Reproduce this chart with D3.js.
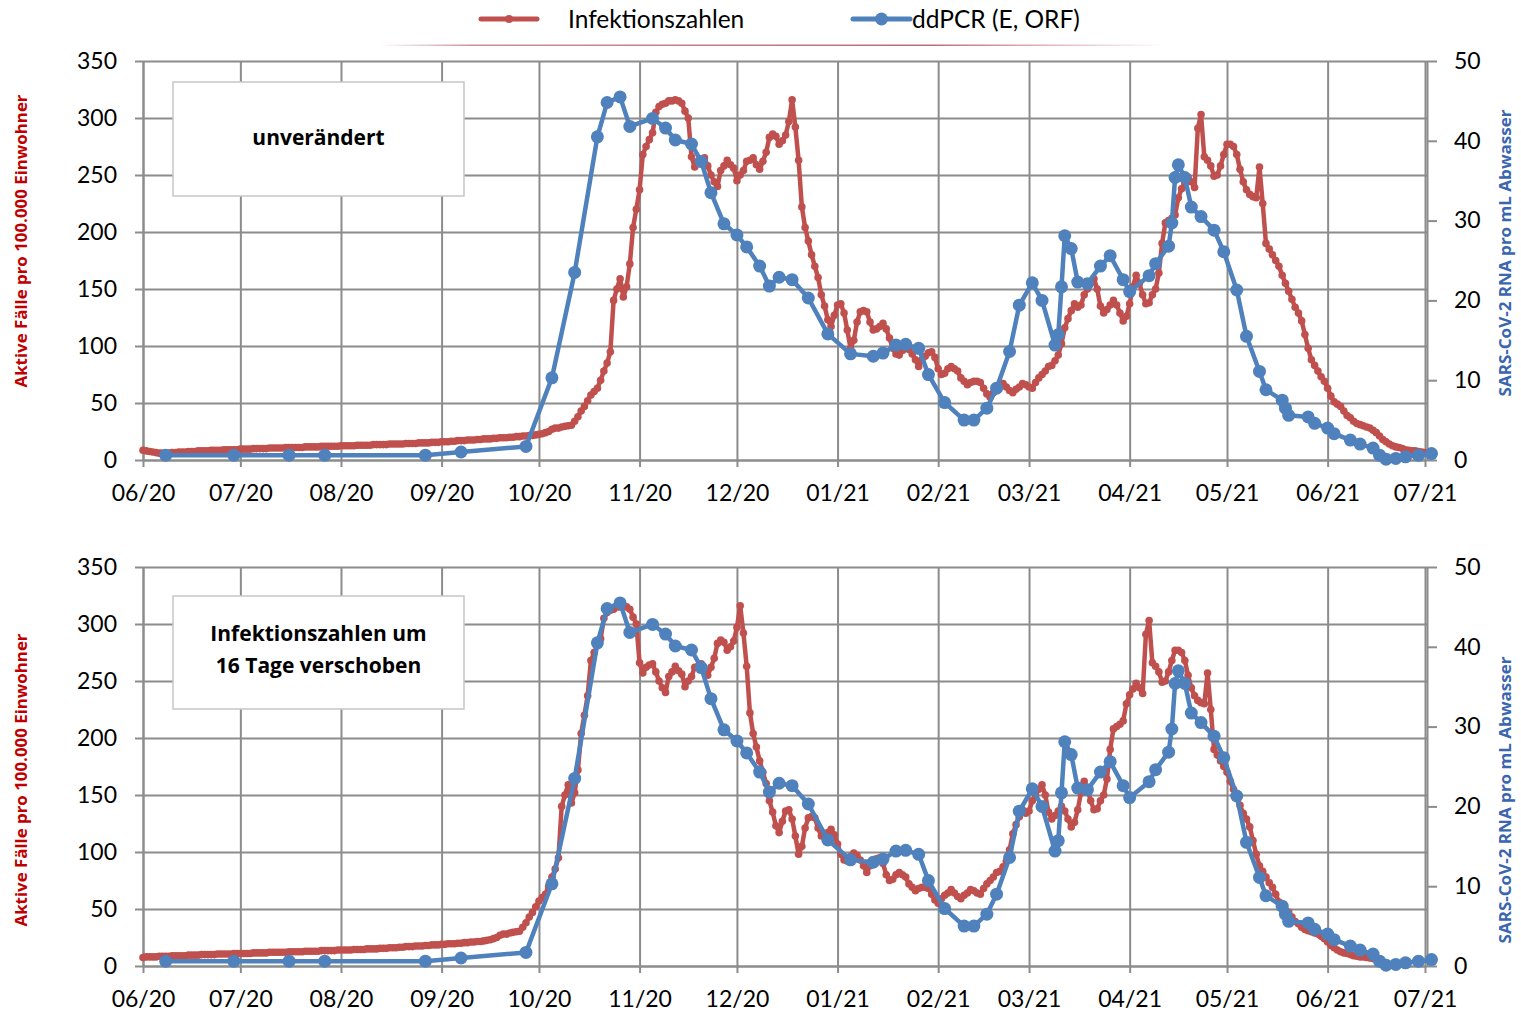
<!DOCTYPE html>
<html lang="de">
<head>
<meta charset="utf-8">
<script src="https://cdn.jsdelivr.net/npm/d3@7"></script>
<style>
  body { margin: 0; background: #fff; }
  svg { display: block; font-family: Lato, 'Open Sans', sans-serif; }
</style>
</head>
<body>
<svg id="chart" width="1521" height="1013"></svg>
<script>
// --- data --------------------------------------------------------------
const RED_START = '2020-06-01';
// Aktive Fälle pro 100.000 Einwohner, one value per day from RED_START
const redValues = [
  8.5, 8, 7.5, 7, 6.5, 6, 6, 6, 6, 6.5,
  6.5, 7, 7, 7, 7.5, 7.5, 7.5, 8, 8, 8,
  8, 8.5, 8.5, 8.5, 8.5, 9, 9, 9, 9, 9,
  9.5, 9.5, 9.5, 9.5, 10, 10, 10, 10, 10, 10.5,
  10.5, 10.5, 10.5, 10.5, 11, 11, 11, 11, 11, 11,
  11.5, 11.5, 11.5, 11.5, 11.5, 12, 12, 12, 12, 12,
  12, 12.5, 12.5, 12.5, 12.5, 12.5, 13, 13, 13, 13,
  13, 13.5, 13.5, 13.5, 13.5, 13.5, 14, 14, 14, 14,
  14, 14.5, 14.5, 14.5, 14.5, 15, 15, 15, 15, 15.5,
  15.5, 15.5, 16, 16, 16, 16.5, 16.5, 17, 17, 17,
  17.5, 17.5, 17.5, 18, 18, 18.5, 18.5, 18.5, 19, 19,
  19.5, 19.5, 19.5, 20, 20, 20.5, 20.5, 21, 21, 21.5,
  21.5, 22, 22.5, 23, 24, 25, 27, 28, 28, 29,
  29.5, 30, 30.5, 34, 38, 43, 47, 52, 57, 60,
  63, 70, 78, 85, 95, 140, 150, 159, 143, 152,
  172, 204, 220, 237, 268, 275, 281, 287, 305, 310,
  312, 313, 315, 315, 316, 315, 313, 306, 300, 266,
  257, 262, 264, 265, 258, 250, 244, 240, 254, 258,
  263, 259, 256, 245, 250, 254, 262, 263, 265, 259,
  255, 262, 270, 283, 286, 284, 277, 280, 285, 297,
  316, 292, 263, 222, 204, 192, 180, 170, 160, 145,
  135, 123, 117, 127, 136, 137, 129, 114, 98, 105,
  121, 130, 131, 130, 121, 114, 115, 117, 120, 115,
  107, 98, 93, 92, 96, 99, 97, 93, 88, 82,
  88, 91, 94, 95, 90, 80, 75, 76, 80, 82,
  80, 78, 72, 69, 66, 68, 69, 69, 68, 63,
  58, 55, 59, 62, 64, 67, 64, 61, 59, 62,
  64, 67, 66, 64, 63, 68, 72, 75, 78, 82,
  83, 87, 92, 102, 116, 124, 131, 137, 134, 136,
  145, 150, 155, 159, 150, 135, 129, 132, 136, 140,
  136, 129, 122, 126, 137, 152, 162, 155, 145, 137,
  138, 145, 150, 164, 190, 208, 210, 212, 215, 230,
  238, 243, 248, 244, 239, 291, 303, 266, 263, 258,
  249, 250, 258, 268, 277, 277, 275, 268, 255, 244,
  237, 233, 231, 230, 257, 225, 190, 185, 180, 175,
  170, 162, 155, 148, 141, 134, 129, 122, 110, 98,
  88, 83, 78, 73, 69, 63, 56, 51, 49, 47,
  43, 39, 37, 34, 32, 31, 30, 29, 28, 26,
  24, 21, 18, 16, 14, 12.5, 11.5, 11, 10, 9,
  8.5, 8, 8, 7.5, 7, 6.5,
];

// SARS-CoV-2 RNA pro mL Abwasser (ddPCR)
const blueDates = [
  '2020-06-08', '2020-06-29', '2020-07-16', '2020-07-27', '2020-08-27', '2020-09-07',
  '2020-09-27', '2020-10-05', '2020-10-12', '2020-10-19', '2020-10-22', '2020-10-26',
  '2020-10-29', '2020-11-05', '2020-11-09', '2020-11-12', '2020-11-17', '2020-11-20',
  '2020-11-23', '2020-11-27', '2020-12-01', '2020-12-04', '2020-12-08', '2020-12-11',
  '2020-12-14', '2020-12-18', '2020-12-23', '2020-12-29', '2021-01-05', '2021-01-12',
  '2021-01-15', '2021-01-19', '2021-01-22', '2021-01-26', '2021-01-29', '2021-02-03',
  '2021-02-09', '2021-02-12', '2021-02-16', '2021-02-19', '2021-02-23', '2021-02-26',
  '2021-03-02', '2021-03-05', '2021-03-09', '2021-03-10', '2021-03-11', '2021-03-12',
  '2021-03-14', '2021-03-16', '2021-03-19', '2021-03-23', '2021-03-26', '2021-03-30',
  '2021-04-01', '2021-04-07', '2021-04-09', '2021-04-13', '2021-04-14', '2021-04-15',
  '2021-04-16', '2021-04-18', '2021-04-20', '2021-04-23', '2021-04-27', '2021-04-30',
  '2021-05-04', '2021-05-07', '2021-05-11', '2021-05-13', '2021-05-18', '2021-05-19',
  '2021-05-20', '2021-05-26', '2021-05-28', '2021-06-01', '2021-06-03', '2021-06-08',
  '2021-06-11', '2021-06-15', '2021-06-17', '2021-06-19', '2021-06-22', '2021-06-25',
  '2021-06-29', '2021-07-03',
];
const blueValues = [
  0.6, 0.6, 0.6, 0.6, 0.6, 1.0,
  1.7, 10.3, 23.5, 40.5, 44.8, 45.5,
  41.8, 42.8, 41.6, 40.1, 39.6, 37.4,
  33.5, 29.6, 28.2, 26.7, 24.3, 21.8,
  22.9, 22.6, 20.3, 15.8, 13.3, 13.0,
  13.4, 14.4, 14.5, 14.0, 10.7, 7.2,
  5.0, 5.0, 6.5, 9.0, 13.6, 19.4,
  22.2, 20.0, 14.4, 15.7, 21.7, 28.1,
  26.5, 22.3, 22.1, 24.3, 25.6, 22.6,
  21.1, 23.1, 24.6, 26.8, 29.7, 35.4,
  37.0, 35.4, 31.7, 30.5, 28.8, 26.1,
  21.3, 15.5, 11.1, 8.8, 7.5, 6.5,
  5.6, 5.4, 4.6, 4.0, 3.3, 2.5,
  2.0, 1.5, 0.6, 0.1, 0.2, 0.4,
  0.6, 0.8,
];

const monthTicks = [
  '2020-06-01', '2020-07-01', '2020-08-01', '2020-09-01', '2020-10-01', '2020-11-01', '2020-12-01',
  '2021-01-01', '2021-02-01', '2021-03-01', '2021-04-01', '2021-05-01', '2021-06-01', '2021-07-01',
];
const leftTicks = [0, 50, 100, 150, 200, 250, 300, 350];
const rightTicks = [0, 10, 20, 30, 40, 50];
const SHIFT_DAYS = 16;

const LEFT_TITLE = 'Aktive Fälle pro 100.000 Einwohner';
const RIGHT_TITLE = 'SARS-CoV-2 RNA pro mL Abwasser';

// --- layout ------------------------------------------------------------
const PLOT_LEFT = 143;
const PLOT_RIGHT = 1425;
const RIGHT_AXIS_X = 1427;
const PLOT_H = 399;
const TICK_FONT = 23;
const COLORS = {
  red: '#c0504d',
  blue: '#4f81bd',
  grid: '#8c8c8c',
  redTitle: '#c00000',
  blueTitle: '#3a66b0',
};

const panels = [
  {
    top: 61, shift: 0, lines: ['unverändert'],
    box: { x: 173, y: 82, w: 291, h: 114 }, textY: [145],
    leftTitleY: 241, rightTitleY: 253,
  },
  {
    top: 567, shift: SHIFT_DAYS, lines: ['Infektionszahlen um', '16 Tage verschoben'],
    box: { x: 173, y: 596, w: 291, h: 113 }, textY: [641, 673],
    leftTitleY: 780, rightTitleY: 800,
  },
];

const parse = d3.utcParse('%Y-%m-%d');
const redStart = parse(RED_START);
const monthDates = monthTicks.map(parse);

const xScale = d3.scaleUtc()
  .domain([monthDates[0], monthDates[monthDates.length - 1]])
  .range([PLOT_LEFT, PLOT_RIGHT]);

const svg = d3.select('#chart');

function styleAxis(g) {
  g.select('.domain').attr('stroke', COLORS.grid).attr('stroke-width', 2);
  g.selectAll('.tick line').attr('stroke', COLORS.grid).attr('stroke-width', 2);
  g.selectAll('.tick text')
    .attr('fill', '#000')
    .attr('font-size', TICK_FONT)
    .attr('font-family', 'Lato, sans-serif');
}

function drawPanel(p) {
  const yLeft = d3.scaleLinear().domain([0, 350]).range([p.top + PLOT_H, p.top]);
  const yRight = d3.scaleLinear().domain([0, 50]).range([p.top + PLOT_H, p.top]);
  const g = svg.append('g');

  // gridlines
  g.append('g')
    .attr('transform', `translate(${PLOT_LEFT},0)`)
    .call(d3.axisLeft(yLeft).tickValues(leftTicks).tickSize(-(RIGHT_AXIS_X - PLOT_LEFT)).tickFormat(''))
    .call((a) => a.select('.domain').remove())
    .call((a) => a.selectAll('line').attr('stroke', COLORS.grid).attr('stroke-width', 2));
  g.append('g')
    .attr('transform', `translate(0,${p.top + PLOT_H})`)
    .call(d3.axisBottom(xScale).tickValues(monthDates).tickSize(-PLOT_H).tickFormat(''))
    .call((a) => a.select('.domain').remove())
    .call((a) => a.selectAll('line').attr('stroke', COLORS.grid).attr('stroke-width', 2));

  // annotation box
  g.append('rect')
    .attr('x', p.box.x).attr('y', p.box.y)
    .attr('width', p.box.w).attr('height', p.box.h)
    .attr('fill', '#fff')
    .attr('stroke', '#c6c6c6')
    .attr('stroke-width', 1.5);
  p.lines.forEach((t, i) => {
    g.append('text')
      .attr('x', p.box.x + p.box.w / 2)
      .attr('y', p.textY[i])
      .attr('text-anchor', 'middle')
      .attr('font-family', "'Open Sans', sans-serif")
      .attr('font-size', 21)
      .attr('font-weight', 700)
      .attr('fill', '#000')
      .text(t);
  });

  // axes
  g.append('g')
    .attr('transform', `translate(0,${p.top + PLOT_H})`)
    .call(d3.axisBottom(xScale).tickValues(monthDates).tickSize(7).tickSizeOuter(0).tickPadding(18)
      .tickFormat(d3.utcFormat('%m/%y')))
    .call(styleAxis);
  g.append('g')
    .attr('transform', `translate(${PLOT_LEFT},0)`)
    .call(d3.axisLeft(yLeft).tickValues(leftTicks).tickSize(8).tickSizeOuter(0).tickPadding(18))
    .call(styleAxis);
  g.append('g')
    .attr('transform', `translate(${RIGHT_AXIS_X},0)`)
    .call(d3.axisRight(yRight).tickValues(rightTicks).tickSize(10).tickSizeOuter(0).tickPadding(17))
    .call(styleAxis);

  // axis titles
  g.append('text')
    .attr('transform', `translate(27,${p.leftTitleY}) rotate(-90)`)
    .attr('text-anchor', 'middle')
    .attr('font-family', "'Open Sans', sans-serif")
    .attr('font-size', 15.5)
    .attr('font-weight', 700)
    .attr('fill', COLORS.redTitle)
    .attr('textLength', 293)
    .attr('lengthAdjust', 'spacingAndGlyphs')
    .text(LEFT_TITLE);
  g.append('text')
    .attr('transform', `translate(1511,${p.rightTitleY}) rotate(-90)`)
    .attr('text-anchor', 'middle')
    .attr('font-family', "'Open Sans', sans-serif")
    .attr('font-size', 15.5)
    .attr('font-weight', 700)
    .attr('fill', COLORS.blueTitle)
    .attr('textLength', 287)
    .attr('lengthAdjust', 'spacingAndGlyphs')
    .text(RIGHT_TITLE);

  // red series (shifted in the lower panel)
  const redData = redValues
    .map((v, i) => ({ date: d3.utcDay.offset(redStart, i - p.shift), value: v }))
    .filter((d) => d.date >= monthDates[0]);
  g.append('path')
    .datum(redData)
    .attr('fill', 'none')
    .attr('stroke', COLORS.red)
    .attr('stroke-width', 4.5)
    .attr('stroke-linejoin', 'round')
    .attr('d', d3.line().x((d) => xScale(d.date)).y((d) => yLeft(d.value)));
  g.append('g').selectAll('circle')
    .data(redData)
    .join('circle')
    .attr('cx', (d) => xScale(d.date))
    .attr('cy', (d) => yLeft(d.value))
    .attr('r', 3.8)
    .attr('fill', COLORS.red);

  // blue series
  const blueData = blueDates.map((d, i) => ({ date: parse(d), value: blueValues[i] }));
  g.append('path')
    .datum(blueData)
    .attr('fill', 'none')
    .attr('stroke', COLORS.blue)
    .attr('stroke-width', 4.5)
    .attr('stroke-linejoin', 'round')
    .attr('d', d3.line().x((d) => xScale(d.date)).y((d) => yRight(d.value)));
  g.append('g').selectAll('circle')
    .data(blueData)
    .join('circle')
    .attr('cx', (d) => xScale(d.date))
    .attr('cy', (d) => yRight(d.value))
    .attr('r', 6.5)
    .attr('fill', COLORS.blue);
}

function drawLegend() {
  const defs = svg.append('defs');
  const grad = defs.append('linearGradient').attr('id', 'legendRule');
  grad.append('stop').attr('offset', '0%').attr('stop-color', '#fff');
  grad.append('stop').attr('offset', '12%').attr('stop-color', '#c8909a');
  grad.append('stop').attr('offset', '70%').attr('stop-color', '#c06a7a');
  grad.append('stop').attr('offset', '100%').attr('stop-color', '#fff');
  svg.append('rect')
    .attr('x', 380).attr('y', 44.5)
    .attr('width', 785).attr('height', 1.5)
    .attr('fill', 'url(#legendRule)');

  const items = [
    { label: 'Infektionszahlen', color: COLORS.red, x1: 481, x2: 537, r: 4, tx: 568, sw: 5 },
    { label: 'ddPCR (E, ORF)', color: COLORS.blue, x1: 853, x2: 910, r: 6.5, tx: 912, sw: 5 },
  ];
  items.forEach((it) => {
    svg.append('line')
      .attr('x1', it.x1).attr('x2', it.x2)
      .attr('y1', 19).attr('y2', 19)
      .attr('stroke', it.color)
      .attr('stroke-width', it.sw)
      .attr('stroke-linecap', 'round');
    svg.append('circle')
      .attr('cx', (it.x1 + it.x2) / 2).attr('cy', 19)
      .attr('r', it.r)
      .attr('fill', it.color);
    svg.append('text')
      .attr('x', it.tx).attr('y', 28)
      .attr('font-size', 24.5)
      .attr('fill', '#000')
      .text(it.label);
  });
}

svg.append('rect').attr('width', 1521).attr('height', 1013).attr('fill', '#fff');
panels.forEach(drawPanel);
drawLegend();
</script>
</body>
</html>
